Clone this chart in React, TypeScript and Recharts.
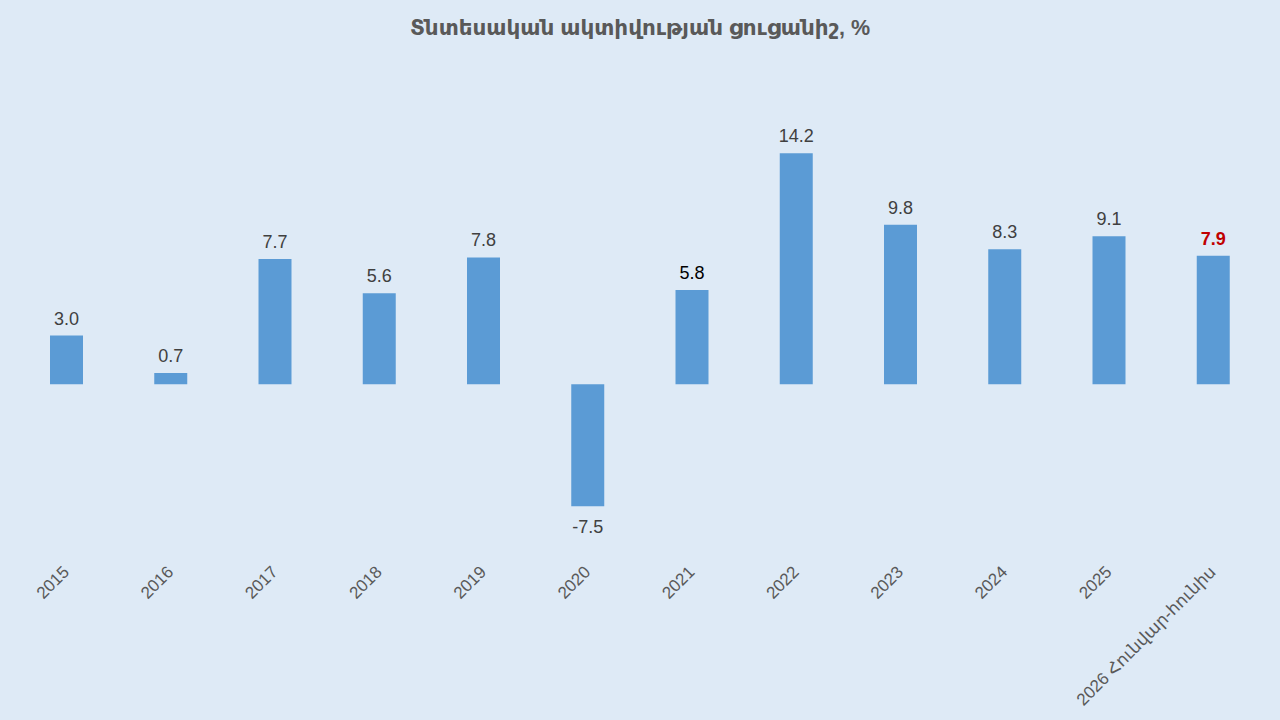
import React from "react";
import { BarChart, Bar, XAxis, YAxis, LabelList } from "recharts";

const categories = [
  "2015",
  "2016",
  "2017",
  "2018",
  "2019",
  "2020",
  "2021",
  "2022",
  "2023",
  "2024",
  "2025",
  "2026 Հունվար-հունիս",
];
const values = [3.0, 0.7, 7.7, 5.6, 7.8, -7.5, 5.8, 14.2, 9.8, 8.3, 9.1, 7.9];
const labelColors = [
  "#404040",
  "#404040",
  "#404040",
  "#404040",
  "#404040",
  "#404040",
  "#000000",
  "#404040",
  "#404040",
  "#404040",
  "#404040",
  "#C00000",
];

const data = categories.map((name, i) => ({ name, value: values[i] }));

const FONT = "'Liberation Sans', 'DejaVu Sans', sans-serif";

function ValueLabel(props: any) {
  const { x, y, width, height, value, index } = props;
  const top = Math.min(y, y + height);
  const bottom = Math.max(y, y + height);
  const cx = x + width / 2;
  const ty = value >= 0 ? top - 11 : bottom + 27;
  return (
    <text
      x={cx}
      y={ty}
      textAnchor="middle"
      fill={labelColors[index]}
      fontSize={18}
      fontWeight={index === 11 ? 700 : 400}
      fontFamily={FONT}
    >
      {Number(value).toFixed(1)}
    </text>
  );
}

function AngledTick(props: any) {
  const { x, payload } = props;
  const ax = x + 4;
  const ay = 573;
  return (
    <text
      x={ax}
      y={ay}
      textAnchor="end"
      fill="#595959"
      fontSize={17}
      fontFamily={FONT}
      transform={`rotate(-45 ${ax} ${ay})`}
    >
      {payload.value}
    </text>
  );
}

export default function App() {
  return (
    <div
      style={{
        position: "absolute",
        left: 0,
        top: 0,
        width: 1280,
        height: 720,
        background: "#DEEAF6",
      }}
    >
      <div
        style={{
          position: "absolute",
          top: 15,
          width: 1280,
          textAlign: "center",
          fontFamily: FONT,
          fontWeight: 700,
          fontSize: 21.5,
          color: "#595959",
        }}
      >
        Տնտեսական ակտիվության ցուցանիշ, %
      </div>
      <BarChart
        width={1280}
        height={720}
        data={data}
        margin={{ top: 124, right: 15, left: 14, bottom: 0 }}
      >
        <XAxis
          dataKey="name"
          axisLine={false}
          tickLine={false}
          height={173}
          interval={0}
          tick={<AngledTick />}
        />
        <YAxis hide domain={[-10, 16]} />
        <Bar dataKey="value" fill="#5B9BD5" barSize={33} isAnimationActive={false}>
          <LabelList dataKey="value" content={<ValueLabel />} />
        </Bar>
      </BarChart>
    </div>
  );
}
